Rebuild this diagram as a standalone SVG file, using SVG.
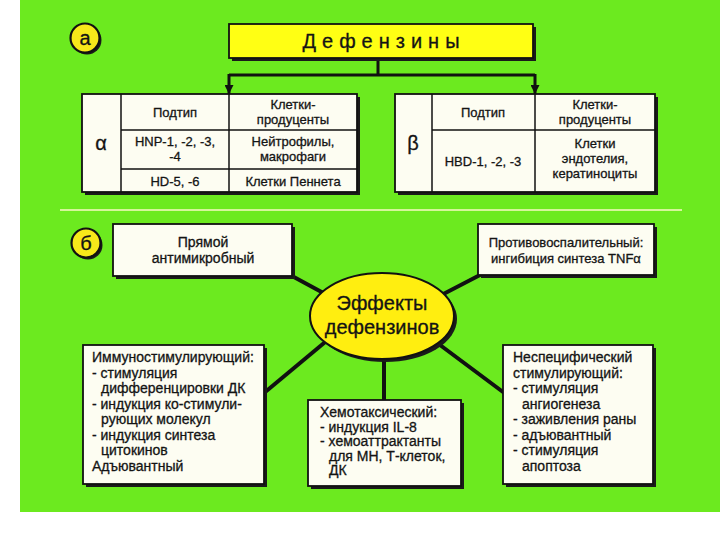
<svg xmlns="http://www.w3.org/2000/svg" width="720" height="540" viewBox="0 0 720 540">
<style>
.t{font-family:"Liberation Sans",Arial,sans-serif;fill:#141414;stroke:#141414;stroke-width:0.3;}
.c{text-anchor:middle;}
.s13{font-size:13px;}
.s14{font-size:14px;}
.box{fill:#fdfdf2;stroke:#111;stroke-width:1.8;}
.sh{fill:#1a1a1a;}
.yl{fill:#ffff14;stroke:#111;stroke-width:1.8;}
.cell{stroke:#111;stroke-width:1.5;fill:none;}
.con{stroke:#111;stroke-width:4;fill:none;stroke-linecap:round;}
.con3{stroke:#111;stroke-width:3;fill:none;}
</style>
<defs>
<marker id="ah" viewBox="0 0 10 10" refX="10" refY="5" markerWidth="3" markerHeight="3" orient="auto" markerUnits="strokeWidth">
<path d="M0,0 L10,5 L0,10 z" fill="#111"/>
</marker>
</defs>
<rect x="0" y="0" width="720" height="540" fill="#ffffff"/>
<rect x="20" y="0" width="700" height="512" fill="#6cea1f"/>
<line x1="60" y1="210" x2="682" y2="210" stroke="#d6f59a" stroke-width="2"/>

<g id="connectors">
<polyline class="con3" points="378,60 378,75"/>
<polyline class="con3" points="229,75 535,75"/>
<line class="con3" x1="229" y1="74" x2="229" y2="94" marker-end="url(#ah)"/>
<line class="con3" x1="535" y1="74" x2="535" y2="94" marker-end="url(#ah)"/>
<line class="con" x1="292" y1="276" x2="340" y2="302"/>
<line class="con" x1="480" y1="275" x2="428" y2="302"/>
<line class="con" x1="264" y1="393" x2="330" y2="338"/>
<line class="con" x1="503" y1="392" x2="436" y2="342"/>
<line class="con" x1="384" y1="350" x2="384" y2="400"/>
</g>

<g id="label-a">
<circle cx="87" cy="40" r="14.5" class="sh"/>
<circle cx="85" cy="38" r="14.5" fill="#f7e81a" stroke="#111" stroke-width="2.2"/>
<text x="85" y="45" class="t c" font-size="20">а</text>
</g>

<g id="title">
<rect x="232" y="27" width="304" height="34" class="sh"/>
<rect x="229" y="24" width="304" height="34" class="yl"/>
<text x="384" y="48" class="t c" font-size="20" letter-spacing="6">Дефензины</text>
</g>

<g id="table-alpha">
<rect x="85" y="97" width="275" height="98" class="sh"/>
<rect x="82" y="94" width="275" height="98" class="box"/>
<line class="cell" x1="121" y1="94" x2="121" y2="192"/>
<line class="cell" x1="229" y1="94" x2="229" y2="192"/>
<line class="cell" x1="121" y1="130" x2="357" y2="130"/>
<line class="cell" x1="121" y1="169" x2="357" y2="169"/>
<text x="101" y="150" class="t c" font-size="20">α</text>
<text x="175" y="117" class="t c s13">Подтип</text>
<text x="293" y="109" class="t c s13">Клетки-</text>
<text x="293" y="124" class="t c s13">продуценты</text>
<text x="175" y="146" class="t c s13">HNP-1, -2, -3,</text>
<text x="175" y="161" class="t c s13">-4</text>
<text x="293" y="146" class="t c s13">Нейтрофилы,</text>
<text x="293" y="161" class="t c s13">макрофаги</text>
<text x="175" y="186" class="t c s13">HD-5, -6</text>
<text x="293" y="186" class="t c s13">Клетки Пеннета</text>
</g>

<g id="table-beta">
<rect x="398" y="97" width="260" height="98" class="sh"/>
<rect x="395" y="94" width="260" height="98" class="box"/>
<line class="cell" x1="432" y1="94" x2="432" y2="192"/>
<line class="cell" x1="535" y1="94" x2="535" y2="192"/>
<line class="cell" x1="432" y1="130" x2="655" y2="130"/>
<text x="413" y="150" class="t c" font-size="20">β</text>
<text x="483" y="117" class="t c s13">Подтип</text>
<text x="595" y="109" class="t c s13">Клетки-</text>
<text x="595" y="124" class="t c s13">продуценты</text>
<text x="483" y="166" class="t c s13">HBD-1, -2, -3</text>
<text x="595" y="148" class="t c s13">Клетки</text>
<text x="595" y="163" class="t c s13">эндотелия,</text>
<text x="595" y="178" class="t c s13">кератиноциты</text>
</g>

<g id="label-b">
<circle cx="88" cy="245" r="14.5" class="sh"/>
<circle cx="86" cy="243" r="14.5" fill="#f7e81a" stroke="#111" stroke-width="2.2"/>
<text x="86" y="250" class="t c" font-size="20">б</text>
</g>

<g id="direct">
<rect x="116" y="227" width="179" height="52" class="sh"/>
<rect x="113" y="224" width="179" height="52" class="box"/>
<text x="203" y="247" class="t c s14">Прямой</text>
<text x="203" y="263" class="t c s14">антимикробный</text>
</g>

<g id="anti-inflammatory">
<rect x="481" y="227" width="176" height="51" class="sh"/>
<rect x="478" y="224" width="176" height="51" class="box"/>
<text x="566" y="247" class="t c s13">Противовоспалительный:</text>
<text x="566" y="263" class="t c s13">ингибиция синтеза TNFα</text>
</g>

<g id="effects">
<ellipse cx="385" cy="319" rx="72" ry="43" class="sh"/>
<ellipse cx="382" cy="316" rx="72" ry="43" fill="#ffee10" stroke="#111" stroke-width="2"/>
<text x="382" y="310" class="t c" font-size="20">Эффекты</text>
<text x="382" y="334" class="t c" font-size="20">дефензинов</text>
</g>

<g id="immuno">
<rect x="86" y="348" width="181" height="139" class="sh"/>
<rect x="83" y="345" width="181" height="139" class="box"/>
<text class="t s14">
<tspan x="92" y="362">Иммуностимулирующий:</tspan>
<tspan x="92" y="377.5">- стимуляция</tspan>
<tspan x="101" y="393">дифференцировки ДК</tspan>
<tspan x="92" y="408.5">- индукция ко-стимули-</tspan>
<tspan x="101" y="424">рующих молекул</tspan>
<tspan x="92" y="439.5">- индукция синтеза</tspan>
<tspan x="101" y="455">цитокинов</tspan>
<tspan x="92" y="470.5">Адъювантный</tspan>
</text>
</g>

<g id="chemotactic">
<rect x="311" y="403" width="153" height="86" class="sh"/>
<rect x="308" y="400" width="153" height="86" class="box"/>
<text class="t s14">
<tspan x="320" y="417">Хемотаксический:</tspan>
<tspan x="320" y="431.5">- индукция IL-8</tspan>
<tspan x="320" y="446">- хемоаттрактанты</tspan>
<tspan x="329" y="460.5">для МН, Т-клеток,</tspan>
<tspan x="329" y="475">ДК</tspan>
</text>
</g>

<g id="nonspecific">
<rect x="506" y="348" width="150" height="139" class="sh"/>
<rect x="503" y="345" width="150" height="139" class="box"/>
<text class="t s14">
<tspan x="513" y="362">Неспецифический</tspan>
<tspan x="513" y="377.5">стимулирующий:</tspan>
<tspan x="513" y="393">- стимуляция</tspan>
<tspan x="522" y="408.5">ангиогенеза</tspan>
<tspan x="513" y="424">- заживления раны</tspan>
<tspan x="513" y="439.5">- адъювантный</tspan>
<tspan x="513" y="455">- стимуляция</tspan>
<tspan x="522" y="470.5">апоптоза</tspan>
</text>
</g>
</svg>
